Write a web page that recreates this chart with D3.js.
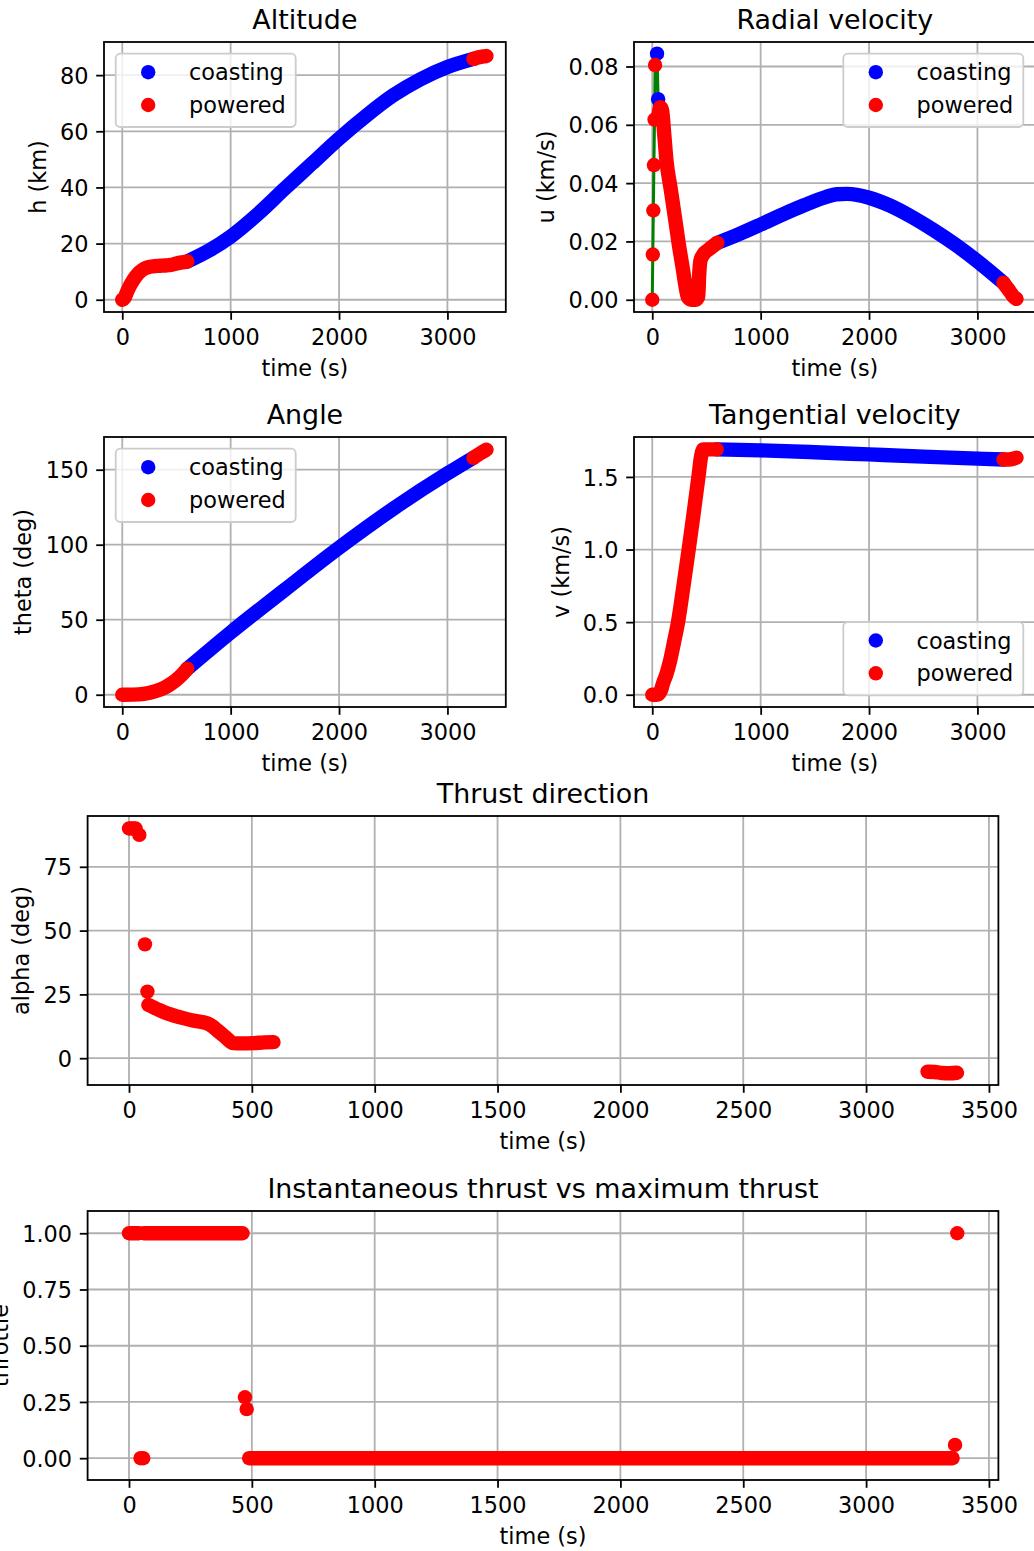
<!DOCTYPE html>
<html><head><meta charset="utf-8">
<script src="https://cdn.jsdelivr.net/npm/d3@7"></script>
<style>
body{margin:0;background:#fff;}
svg{display:block;}
text{font-family:"DejaVu Sans",sans-serif;fill:#000;}
</style>
</head><body>
<svg id="c" width="1034" height="1551"></svg>
<script>
// ---------------- DATA ----------------
// Altitude h (km)
const tAltPow1 = [0, 20, 45, 70, 100, 130, 160, 200, 250, 300, 350, 400, 450, 500, 550, 600];
const hAltPow1 = [0, 0.6, 2.9, 4.9, 6.9, 8.5, 9.8, 11.0, 11.7, 12.0, 12.1, 12.2, 12.4, 12.9, 13.3, 13.6];
const tAltCoast = [600, 800, 1000, 1250, 1500, 1750, 2000, 2250, 2500, 2750, 3000, 3240];
const hAltCoast = [13.6, 17.5, 22.5, 30.5, 39.6, 48.5, 57.4, 65.5, 72.8, 78.5, 82.9, 85.8];
const tAltPow2 = [3240, 3280, 3320, 3360];
const hAltPow2 = [85.8, 86.3, 86.6, 86.8];

// Radial velocity u (km/s)
const tRadPowDots = [0, 5, 10, 15, 21, 26];
const uRadPowDots = [0, 0.0155, 0.0306, 0.0462, 0.0618, 0.0805];
const tRadCoastDots = [44, 54];
const uRadCoastDots = [0.0844, 0.0688];
const tRadPow1 = [60, 75, 90, 110, 130, 170, 206, 245, 282, 310, 330, 360, 400, 424, 432, 445, 470, 520, 600];
const uRadPow1 = [0.064, 0.066, 0.065, 0.057, 0.048, 0.038, 0.029, 0.019, 0.0106, 0.004, 0.0008, 0, 0, 0.001, 0.008, 0.0135, 0.0155, 0.0172, 0.0195];
const tRadCoast = [600, 800, 1000, 1200, 1400, 1600, 1700, 1800, 2000, 2200, 2400, 2600, 2800, 3000, 3240];
const uRadCoast = [0.0195, 0.0225, 0.0258, 0.0292, 0.0324, 0.0352, 0.0362, 0.0363, 0.0350, 0.0322, 0.0283, 0.0238, 0.0188, 0.0132, 0.0058];
const tRadPow2 = [3240, 3270, 3300, 3330, 3360];
const uRadPow2 = [0.0058, 0.0043, 0.0028, 0.0012, 0.0003];

// Angle theta (deg)
const tAngPow1 = [0, 100, 200, 300, 400, 450, 500, 550, 600];
const thAngPow1 = [0, 0.08, 0.64, 2.2, 5.1, 7.3, 10.0, 13.3, 17.3];
const tAngCoast = [600, 1000, 1500, 2000, 2500, 3000, 3240];
const thAngCoast = [17.3, 41.5, 70, 98, 124, 147.5, 158];
const tAngPow2 = [3240, 3300, 3360];
const thAngPow2 = [158, 160.8, 163.4];

// Tangential velocity v (km/s)
const tTanPow1 = [0, 20, 40, 60, 80, 100, 130, 160, 200, 240, 290, 336, 380, 426, 450, 470, 500, 550, 595];
const vTanPow1 = [0, 0, 0, 0.005, 0.03, 0.08, 0.14, 0.22, 0.36, 0.51, 0.76, 1.0, 1.24, 1.5, 1.64, 1.69, 1.69, 1.69, 1.69];
const tTanCoast = [595, 1000, 1500, 2000, 2500, 3000, 3240];
const vTanCoast = [1.690, 1.683, 1.670, 1.655, 1.640, 1.626, 1.620];
const tTanPow2 = [3240, 3290, 3330, 3360];
const vTanPow2 = [1.620, 1.620, 1.625, 1.633];

// Thrust direction alpha (deg)
const tAlphaDots = [0, 9, 18, 27, 42, 65, 75];
const alphaDots = [90, 90, 90, 90, 87.5, 44.6, 26.1];
const tAlphaPow1 = [79, 120, 154, 190, 221, 260, 317, 340, 357, 390, 425, 460, 507, 550, 588];
const alphaPow1 = [20.9, 19.0, 17.6, 16.5, 15.7, 14.8, 13.7, 12.5, 11.1, 8.5, 5.9, 5.8, 5.9, 6.2, 6.3];
const tAlphaPow2 = [3250, 3280, 3310, 3340, 3370];
const alphaPow2 = [-5.3, -5.4, -5.8, -5.9, -5.7];

// Throttle
const tThrOn1 = [0, 40];
const thrOn1 = [1, 1];
const tThrOn2 = [60, 462];
const thrOn2 = [1, 1];
const tThrDots = [47, 58, 472, 479, 3362, 3371];
const thrDots = [0, 0, 0.271, 0.218, 0.059, 1.0];
const tThrOff = [489, 3352];
const thrOff = [0, 0];

// Tick values
const xTicksTop = [0, 1000, 2000, 3000];
const xTicksBottom = [0, 500, 1000, 1500, 2000, 2500, 3000, 3500];
const yTicksAlt = [0, 20, 40, 60, 80];
const yTicksRad = [0, 0.02, 0.04, 0.06, 0.08];
const yTicksAng = [0, 50, 100, 150];
const yTicksTan = [0, 0.5, 1.0, 1.5];
const yTicksAlpha = [0, 25, 50, 75];
const yTicksThr = [0, 0.25, 0.5, 0.75, 1.0];

const legendLabels = ["coasting", "powered"];

// ---------------- STYLE / LAYOUT ----------------
const BLUE = "#0000ff", RED = "#ff0000", GREEN = "#008000";
const FS = 22.4, TFS = 26.9, R = 7.2, LW = 1.8;
const TICK = 7.8, PAD = 7.8;
const XDOM = [-168.5, 3538.5];

const zip = (t, v) => t.map((d, i) => [d, v[i]]);

const panels = [
  {title: "Altitude", ylabel: "h (km)", box: [104, 42, 505.8, 312], ydom: [-4.37, 91.8],
   xticks: xTicksTop, yticks: yTicksAlt, yfmt: d3.format("d"), legend: "tl", ylx: 45.6,
   series: [
     {t: tAltCoast, v: hAltCoast, c: BLUE, k: "band"},
     {t: tAltPow1, v: hAltPow1, c: RED, k: "band"},
     {t: tAltPow2, v: hAltPow2, c: RED, k: "band"}]},
  {title: "Radial velocity", ylabel: "u (km/s)", box: [634, 42, 1035.8, 312], ydom: [-0.0042, 0.0884],
   xticks: xTicksTop, yticks: yTicksRad, yfmt: d3.format(".2f"), legend: "tr", ylx: 554.2,
   green: {ts: [tRadPowDots, tRadCoastDots, tRadPow1, tRadCoast, tRadPow2], vs: [uRadPowDots, uRadCoastDots, uRadPow1, uRadCoast, uRadPow2]},
   series: [
     {t: tRadCoastDots, v: uRadCoastDots, c: BLUE, k: "dots"},
     {t: tRadCoast, v: uRadCoast, c: BLUE, k: "band"},
     {t: tRadPowDots, v: uRadPowDots, c: RED, k: "dots"},
     {t: tRadPow1, v: uRadPow1, c: RED, k: "band"},
     {t: tRadPow2, v: uRadPow2, c: RED, k: "band"}]},
  {title: "Angle", ylabel: "theta (deg)", box: [104, 437, 505.8, 707], ydom: [-8.18, 171.8],
   xticks: xTicksTop, yticks: yTicksAng, yfmt: d3.format("d"), legend: "tl", ylx: 31.4,
   series: [
     {t: tAngCoast, v: thAngCoast, c: BLUE, k: "band"},
     {t: tAngPow1, v: thAngPow1, c: RED, k: "band"},
     {t: tAngPow2, v: thAngPow2, c: RED, k: "band"}]},
  {title: "Tangential velocity", ylabel: "v (km/s)", box: [634, 437, 1035.8, 707], ydom: [-0.0845, 1.775],
   xticks: xTicksTop, yticks: yTicksTan, yfmt: d3.format(".1f"), legend: "br", ylx: 568.5,
   series: [
     {t: tTanCoast, v: vTanCoast, c: BLUE, k: "band"},
     {t: tTanPow1, v: vTanPow1, c: RED, k: "band"},
     {t: tTanPow2, v: vTanPow2, c: RED, k: "band"}]},
  {title: "Thrust direction", ylabel: "alpha (deg)", box: [87.6, 816, 998.4, 1085], ydom: [-10.5, 94.9],
   xticks: xTicksBottom, yticks: yTicksAlpha, yfmt: d3.format("d"), legend: null, ylx: 29.2,
   series: [
     {t: tAlphaDots, v: alphaDots, c: RED, k: "dots"},
     {t: tAlphaPow1, v: alphaPow1, c: RED, k: "band"},
     {t: tAlphaPow2, v: alphaPow2, c: RED, k: "band"}]},
  {title: "Instantaneous thrust vs maximum thrust", ylabel: "throttle", box: [87.6, 1211, 998.4, 1480], ydom: [-0.097, 1.099],
   xticks: xTicksBottom, yticks: yTicksThr, yfmt: d3.format(".2f"), legend: null, ylx: 7.8,
   series: [
     {t: tThrOn1, v: thrOn1, c: RED, k: "band"},
     {t: tThrOn2, v: thrOn2, c: RED, k: "band"},
     {t: tThrDots, v: thrDots, c: RED, k: "dots"},
     {t: tThrOff, v: thrOff, c: RED, k: "band"}]}
];

const svg = d3.select("#c");
svg.append("rect").attr("width", 1034).attr("height", 1551).attr("fill", "#fff");
const defs = svg.append("defs");

panels.forEach((p, pi) => {
  const [x0, y0, x1, y1] = p.box;
  const x = d3.scaleLinear().domain(XDOM).range([x0, x1]);
  const y = d3.scaleLinear().domain(p.ydom).range([y1, y0]);
  const g = svg.append("g");

  defs.append("clipPath").attr("id", "clip" + pi)
    .append("rect").attr("x", x0).attr("y", y0).attr("width", x1 - x0).attr("height", y1 - y0);

  // grid
  const grid = g.append("g").attr("stroke", "#b0b0b0").attr("stroke-width", LW);
  grid.selectAll("line.gx").data(p.xticks).join("line").attr("class", "gx")
    .attr("x1", d => x(d)).attr("x2", d => x(d)).attr("y1", y0).attr("y2", y1);
  grid.selectAll("line.gy").data(p.yticks).join("line").attr("class", "gy")
    .attr("y1", d => y(d)).attr("y2", d => y(d)).attr("x1", x0).attr("x2", x1);

  const marks = g.append("g").attr("clip-path", `url(#clip${pi})`);
  const line = d3.line().x(d => x(d[0])).y(d => y(d[1]));
  const smooth = d3.line().x(d => x(d[0])).y(d => y(d[1])).curve(d3.curveMonotoneX);

  if (p.green) {
    const pts = [];
    p.green.ts.forEach((ts, j) => zip(ts, p.green.vs[j]).forEach(q => pts.push(q)));
    pts.sort((a, b) => a[0] - b[0]);
    marks.append("path").attr("d", line(pts)).attr("fill", "none")
      .attr("stroke", GREEN).attr("stroke-width", 3);
  }

  p.series.forEach(s => {
    const pts = zip(s.t, s.v);
    if (s.k === "band") {
      marks.append("path").attr("d", smooth(pts)).attr("fill", "none")
        .attr("stroke", s.c).attr("stroke-width", 2 * R)
        .attr("stroke-linecap", "round").attr("stroke-linejoin", "round");
    } else {
      marks.append("g").selectAll("circle").data(pts).join("circle")
        .attr("cx", d => x(d[0])).attr("cy", d => y(d[1])).attr("r", R).attr("fill", s.c);
    }
  });

  // spines
  g.append("rect").attr("x", x0).attr("y", y0).attr("width", x1 - x0).attr("height", y1 - y0)
    .attr("fill", "none").attr("stroke", "#000").attr("stroke-width", LW);

  // axes
  const ax = g.append("g").attr("transform", `translate(0,${y1})`)
    .call(d3.axisBottom(x).tickValues(p.xticks).tickFormat(d3.format("d")).tickSize(TICK).tickPadding(PAD).tickSizeOuter(0));
  const ay = g.append("g").attr("transform", `translate(${x0},0)`)
    .call(d3.axisLeft(y).tickValues(p.yticks).tickFormat(p.yfmt).tickSize(TICK).tickPadding(PAD).tickSizeOuter(0));
  [ax, ay].forEach(a => {
    a.select(".domain").remove();
    a.selectAll("line").attr("stroke", "#000").attr("stroke-width", LW);
    a.selectAll("text").attr("font-size", FS).attr("font-family", "DejaVu Sans").attr("fill", "#000");
  });
  ax.selectAll("text").attr("dy", "0.76em");
  ay.selectAll("text").attr("dy", "0.36em");

  // labels
  g.append("text").attr("x", (x0 + x1) / 2).attr("y", y1 + 64).attr("text-anchor", "middle")
    .attr("font-size", FS).text("time (s)");
  g.append("text").attr("transform", `translate(${p.ylx},${(y0 + y1) / 2}) rotate(-90)`)
    .attr("text-anchor", "middle").attr("font-size", FS).text(p.ylabel);
  g.append("text").attr("x", (x0 + x1) / 2).attr("y", y0 - 13.4).attr("text-anchor", "middle")
    .attr("font-size", TFS).text(p.title);

  // legend
  if (p.legend) {
    const LWID = 180, LH = 73.3, OFF = 11.7;
    const lx = p.legend.endsWith("l") ? x0 + OFF : x1 - OFF - 0.8 - LWID;
    const ly = p.legend.startsWith("t") ? y0 + OFF : y1 - OFF - LH;
    const lg = g.append("g").attr("transform", `translate(${lx},${ly})`);
    lg.append("rect").attr("width", LWID).attr("height", LH).attr("rx", 4.5)
      .attr("fill", "#fff").attr("fill-opacity", 0.8).attr("stroke", "#cccccc").attr("stroke-width", LW);
    const rows = lg.selectAll("g.row").data(legendLabels).join("g").attr("class", "row")
      .attr("transform", (d, i) => `translate(0,${18.5 + i * 32.8})`);
    rows.append("circle").attr("cx", 32.5).attr("cy", 0).attr("r", R).attr("fill", (d, i) => i ? RED : BLUE);
    rows.append("text").attr("x", 73.3).attr("y", 0).attr("dy", "0.36em").attr("font-size", FS).text(d => d);
  }
});
</script>
</body></html>
